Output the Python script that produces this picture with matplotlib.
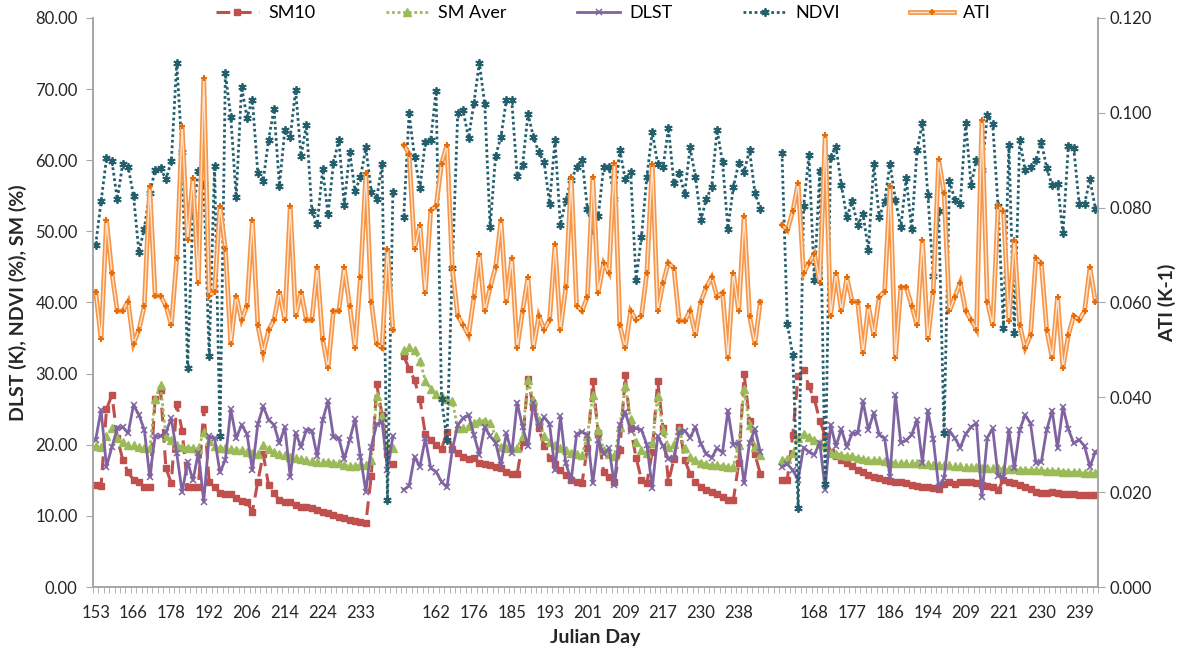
import numpy as np
import matplotlib
matplotlib.use("Agg")
import matplotlib.pyplot as plt
from matplotlib.lines import Line2D
from matplotlib.ticker import FormatStrFormatter

plt.rcParams['font.family'] = ['Lato', 'DejaVu Sans']

nan = np.nan

# x-axis tick labels (every 7th category; blanks mark gaps between years)
tick_labels = ['153', '166', '178', '192', '206', '214', '224', '233', '',
               '162', '176', '185', '193', '201', '209', '217', '230', '238', '',
               '168', '177', '186', '194', '209', '221', '230', '239']

sm10 = [14.3, 14.2, 25.0, 27.0, 21.0, 17.9, 16.1, 15.1, 14.7, 14.1, 14.1, 26.5, 27.7, 16.7, 14.6, 25.7,
        22.0, 14.1, 14.1, 14.1, 25.0, 14.8, 14.1, 13.2, 13.1, 13.1, 12.5, 12.1, 11.9, 10.6, 14.8, 18.7,
        14.3, 13.2, 12.2, 12.0, 11.9, 11.5, 11.3, 11.2, 11.1, 10.8, 10.6, 10.4, 10.1, 9.8, 9.7, 9.4,
        9.3, 9.2, 9.0, 15.6, 28.5, 24.2, 18.7, 17.3,
        nan,
        32.5, 30.7, 29.1, 26.4, 21.5, 20.7, 20.0, 19.4, 21.8, 19.4, 18.9, 18.3, 18.0, 18.2, 17.4, 17.3,
        17.1, 16.9, 16.8, 16.1, 15.9, 15.9, 20.4, 29.2, 25.3, 22.3, 19.8, 18.2, 17.3, 16.4, 15.7, 15.1,
        14.8, 14.6, 19.6, 28.9, 21.7, 16.1, 15.4, 14.8, 19.2, 29.8, 22.3, 18.2, 15.1, 14.6, 19.0, 29.0,
        22.3, 14.8, 18.0, 22.5, 17.9, 15.9, 14.8, 14.0, 13.7, 13.4, 13.1, 12.7, 12.3, 12.2, 17.4, 29.9,
        23.4, 18.7, 15.9,
        nan, nan, nan,
        15.1, 15.1, 21.4, 29.7, 30.5, 28.2, 26.4, 23.4, 21.2, 19.0, 18.4, 17.9, 17.5, 17.0, 16.5, 16.1,
        15.7, 15.5, 15.3, 15.0, 14.9, 14.8, 14.7, 14.6, 14.3, 14.2, 14.1, 14.0, 13.9, 13.8, 14.5, 14.8,
        14.5, 14.7, 14.8, 14.8, 14.6, 14.3, 14.2, 14.0, 13.6, 15.1, 14.8, 14.6, 14.3, 14.1, 13.8, 13.4,
        13.2, 13.2, 13.3, 13.2, 13.1, 13.1, 13.1, 12.9, 12.9, 12.9, 12.9]

sm_aver = [19.8, 19.7, 21.3, 22.3, 21.0, 20.4, 20.0, 19.9, 19.7, 19.6, 19.5, 26.4, 28.4, 21.2, 20.6, 19.9,
           19.7, 19.6, 19.5, 19.4, 21.8, 20.5, 19.8, 19.6, 19.5, 19.4, 19.3, 19.2, 19.0, 18.8, 18.7, 19.9,
           19.4, 19.0, 18.7, 18.5, 18.3, 18.2, 18.0, 17.8, 17.7, 17.6, 17.6, 17.6, 17.5, 17.4, 17.2, 17.0,
           17.0, 17.1, 17.2, 17.8, 26.8, 24.0, 20.0, 19.6,
           nan,
           33.3, 33.7, 33.3, 31.8, 29.0, 27.9, 27.2, 26.8, 26.5, 26.2, 22.3, 22.4, 22.6, 23.1, 23.4, 23.4,
           23.1, 21.2, 19.7, 19.6, 19.5, 19.5, 21.2, 29.1, 26.3, 23.5, 21.2, 20.4, 20.0, 19.6, 19.2, 18.9,
           18.7, 18.6, 21.3, 27.0, 22.1, 19.3, 18.7, 18.4, 22.5, 28.3, 23.6, 20.4, 19.2, 18.9, 20.3, 26.8,
           22.1, 19.7, 20.1, 22.1, 19.5, 18.3, 17.9, 17.5, 17.3, 17.1, 17.1, 17.0, 16.9, 16.9, 20.0, 27.8,
           22.8, 19.7, 18.6,
           nan, nan, nan,
           17.9, 18.0, 18.8, 20.9, 21.5, 21.1, 20.6, 20.3, 19.9, 18.9, 18.7, 18.6, 18.4, 18.4, 18.1, 18.0,
           17.9, 17.8, 17.8, 17.7, 17.6, 17.5, 17.5, 17.4, 17.4, 17.4, 17.3, 17.3, 17.2, 17.2, 17.2, 17.1,
           17.0, 17.0, 16.9, 16.9, 16.9, 16.8, 16.8, 16.7, 16.7, 16.6, 16.6, 16.6, 16.5, 16.5, 16.4, 16.4,
           16.4, 16.3, 16.3, 16.3, 16.2, 16.2, 16.1, 16.1, 16.0, 16.0, 16.0]

dlst = [20.7, 24.9, 16.9, 19.7, 22.3, 22.5, 21.6, 25.6, 24.2, 22.1, 15.5, 21.2, 21.2, 21.8, 23.7, 18.8,
        13.3, 17.6, 15.0, 18.9, 12.0, 21.2, 20.9, 16.1, 17.9, 25.0, 20.9, 22.8, 21.5, 16.4, 22.9, 25.4,
        23.5, 22.8, 20.2, 22.5, 15.5, 21.7, 19.7, 22.1, 22.0, 18.4, 23.5, 26.1, 21.1, 20.9, 18.0, 20.7,
        23.6, 18.3, 13.4, 19.7, 22.9, 23.2, 16.4, 21.2,
        nan,
        13.7, 14.2, 18.3, 16.9, 20.9, 16.7, 16.2, 14.8, 14.0, 19.3, 22.8, 23.7, 24.2, 21.4, 18.6, 22.5,
        21.2, 20.3, 17.2, 21.6, 18.8, 25.9, 22.5, 19.8, 25.9, 22.5, 23.9, 22.9, 16.4, 24.0, 17.4, 15.0,
        21.5, 21.8, 21.4, 14.6, 20.7, 18.7, 19.5, 14.3, 22.8, 24.6, 22.0, 22.3, 22.1, 20.0, 13.9, 21.2,
        19.8, 18.0, 18.2, 21.8, 22.0, 21.0, 22.5, 20.1, 18.7, 18.2, 19.5, 18.9, 24.8, 20.0, 20.3, 14.6,
        20.3, 22.2, 19.0,
        nan, nan, nan,
        16.9, 17.3, 16.4, 15.1, 19.6, 19.0, 18.6, 20.3, 13.7, 22.8, 19.8, 22.2, 19.7, 21.6, 21.6, 26.1,
        22.1, 24.5, 21.4, 20.9, 15.4, 27.0, 20.3, 20.6, 21.4, 23.5, 17.5, 24.8, 20.8, 14.1, 15.3, 22.0,
        20.9, 19.6, 21.5, 22.5, 23.0, 12.7, 21.0, 22.3, 15.6, 15.5, 22.1, 16.7, 22.1, 24.2, 23.0, 17.5,
        17.6, 22.1, 24.8, 19.5, 25.3, 22.2, 20.2, 20.7, 19.8, 16.9, 19.0]

ndvi = [48.1, 54.2, 60.3, 59.9, 54.5, 59.5, 59.1, 55.0, 47.1, 50.4, 55.4, 58.6, 58.9, 57.3, 59.9, 73.7,
        61.1, 30.8, 52.5, 58.5, 56.7, 32.5, 59.2, 21.2, 72.2, 66.1, 54.8, 70.3, 66.0, 68.5, 58.2, 57.1,
        62.9, 67.2, 56.4, 64.2, 63.2, 69.9, 60.6, 65.0, 52.9, 51.0, 58.7, 52.4, 59.6, 62.9, 53.7, 61.2,
        55.7, 57.6, 61.8, 55.6, 54.6, 59.5, 12.2, 55.6,
        nan,
        52.0, 66.6, 60.5, 56.1, 62.6, 62.8, 69.8, 26.4, 20.7, 44.8, 66.6, 67.0, 63.1, 68.1, 73.7, 67.9,
        50.6, 60.6, 63.3, 68.5, 68.4, 57.8, 59.3, 66.5, 63.3, 61.1, 59.7, 53.9, 62.8, 50.9, 54.4, 57.2,
        59.0, 60.1, 53.2, 50.2, 52.1, 59.0, 59.0, 54.5, 61.4, 57.3, 58.4, 43.2, 49.2, 57.7, 64.0, 59.5,
        59.0, 64.6, 56.8, 58.2, 55.3, 61.8, 57.6, 51.6, 54.5, 56.3, 64.3, 59.7, 50.4, 56.2, 59.6, 58.4,
        61.4, 55.4, 53.2,
        nan, nan, nan,
        61.0, 37.0, 32.6, 11.1, 53.5, 60.7, 43.1, 58.5, 14.5, 60.5, 61.9, 56.5, 52.0, 54.2, 50.9, 52.4,
        47.4, 59.5, 52.0, 54.2, 59.5, 54.4, 50.6, 57.5, 50.3, 61.4, 65.3, 55.1, 43.7, 52.9, 21.6, 57.1,
        54.4, 53.9, 65.2, 56.5, 60.1, 58.6, 66.4, 65.1, 53.5, 36.4, 62.1, 35.7, 62.8, 58.6, 59.0, 60.0,
        62.6, 58.9, 56.5, 56.7, 49.7, 62.0, 61.7, 53.9, 53.9, 57.3, 53.2]

# ATI in K-1 (secondary axis)
ati = [0.0623, 0.0522, 0.0774, 0.0662, 0.0582, 0.0582, 0.0602, 0.0513, 0.0542, 0.0593, 0.0845, 0.0614,
       0.0614, 0.0593, 0.0552, 0.0693, 0.0972, 0.0732, 0.0863, 0.0642, 0.1073, 0.0614, 0.0623, 0.0804,
       0.0713, 0.0513, 0.0614, 0.0563, 0.0593, 0.0774, 0.0552, 0.0494, 0.0542, 0.0563, 0.0623, 0.0563,
       0.0804, 0.0572, 0.0623, 0.0563, 0.0563, 0.0674, 0.0522, 0.0461, 0.0582, 0.0582, 0.0674, 0.0593,
       0.0504, 0.0653, 0.0873, 0.0602, 0.0513, 0.0504, 0.0713, 0.0542,
       nan,
       0.0932, 0.0914, 0.0713, 0.0764, 0.0621, 0.0794, 0.0803, 0.0893, 0.0932, 0.0672, 0.0572, 0.0552,
       0.0531, 0.0612, 0.0702, 0.0582, 0.0632, 0.0674, 0.0773, 0.0602, 0.0693, 0.0504, 0.0582, 0.0653,
       0.0504, 0.0572, 0.0543, 0.0563, 0.0723, 0.0542, 0.0632, 0.0864, 0.0593, 0.0582, 0.0612, 0.0864,
       0.0621, 0.0683, 0.0663, 0.0894, 0.0552, 0.0504, 0.0582, 0.0563, 0.0572, 0.0663, 0.0893, 0.0582,
       0.0642, 0.0684, 0.0672, 0.0561, 0.0561, 0.0582, 0.0531, 0.0602, 0.0632, 0.0653, 0.0612, 0.0621,
       0.0483, 0.0663, 0.0582, 0.0783, 0.0572, 0.0513, 0.0602,
       nan, nan, nan,
       0.0764, 0.0752, 0.0792, 0.0852, 0.0662, 0.0683, 0.0702, 0.0642, 0.0954, 0.0572, 0.0663, 0.0582,
       0.0653, 0.0602, 0.0602, 0.0494, 0.0593, 0.0531, 0.0612, 0.0623, 0.0845, 0.0483, 0.0632, 0.0632,
       0.0593, 0.0552, 0.0732, 0.0522, 0.0623, 0.0902, 0.0831, 0.0582, 0.0612, 0.0642, 0.0582, 0.0563,
       0.0543, 0.0984, 0.0602, 0.0552, 0.0803, 0.0792, 0.0561, 0.0732, 0.0552, 0.0504, 0.0531, 0.0693,
       0.0683, 0.0542, 0.0483, 0.0612, 0.0462, 0.0531, 0.0572, 0.0563, 0.0582, 0.0674, 0.0602]

n = len(sm10)
x = np.arange(n)

fig = plt.figure(figsize=(11.83, 6.51), dpi=100)
ax = fig.add_axes([0.0786, 0.0983, 0.8496, 0.8741])
ax2 = ax.twinx()

c_sm10 = '#C0504D'
c_smav = '#9BBB59'
c_dlst = '#8064A2'
c_ndvi = '#245F6E'
c_ati = '#F79646'
c_ati_in = '#FDE3CF'

l_sm10, = ax.plot(x, sm10, color=c_sm10, lw=2.2, ls=(0, (4.5, 2.5)), marker='s', ms=5,
                  mec=c_sm10, mfc=c_sm10, label='SM10', zorder=3)
l_smav, = ax.plot(x, sm_aver, color=c_smav, lw=2, ls=(0, (1, 1)), marker='^', ms=5.5,
                  mec=c_smav, mfc=c_smav, label='SM Aver', zorder=3)
l_dlst, = ax.plot(x, dlst, color=c_dlst, lw=2, ls='-', marker='x', ms=4, mew=1.1,
                  mec=c_dlst, label='DLST', zorder=4)
l_ndvi, = ax.plot(x, ndvi, color=c_ndvi, lw=2, ls=(0, (1, 1)), marker=(6, 2, 0), ms=6, mew=1.3,
                  mec=c_ndvi, label='NDVI', zorder=4)

ax2.plot(x, ati, color=c_ati, lw=3.4, solid_joinstyle='miter', zorder=2)
ax2.plot(x, ati, color=c_ati_in, lw=1.0, zorder=3)
ax2.plot(x, ati, ls='none', marker='+', ms=5, mew=1.5, color='#E46C0A', zorder=4)

ax.set_xlim(-0.5, n - 0.5)
ax.set_ylim(0, 80)
ax2.set_ylim(0, 0.12)
ax.set_yticks(np.arange(0, 81, 10))
ax2.set_yticks(np.arange(0, 0.1201, 0.02))
ax.yaxis.set_major_formatter(FormatStrFormatter('%.2f'))
ax2.yaxis.set_major_formatter(FormatStrFormatter('%.3f'))

tick_pos = np.arange(0, n, 7)[:len(tick_labels)]
ax.set_xticks(tick_pos)
ax.set_xticklabels(tick_labels)
ax.set_xticks(np.arange(-0.5, n, 1), minor=True)
ax.tick_params(axis='x', which='major', length=0, pad=13, labelsize=12, colors='#262626')
ax.tick_params(axis='x', which='minor', length=4, color='#A6A6A6', direction='out')
ax.tick_params(axis='y', length=5, color='#A6A6A6', pad=6, labelsize=12, labelcolor='#262626')
ax2.tick_params(axis='y', length=5, color='#A6A6A6', pad=3, labelsize=12, labelcolor='#262626')

for a in (ax, ax2):
    a.spines['top'].set_visible(False)
    for s in ('left', 'right', 'bottom'):
        a.spines[s].set_color('#A6A6A6')
        a.spines[s].set_linewidth(1.2)

ax.set_xlabel('Julian Day', fontsize=14, fontweight='bold', labelpad=6, color='#262626')
ax.set_ylabel('DLST (K), NDVI (%), SM (%)', fontsize=14, fontweight='bold', labelpad=6, color='#262626')
ax2.set_ylabel('ATI (K-1)', fontsize=14, fontweight='bold', labelpad=5, color='#262626')

h_ati = (Line2D([], [], color=c_ati, lw=3.4), Line2D([], [], color=c_ati_in, lw=1.0),
         Line2D([], [], ls='none', marker='+', ms=5, mew=1.5, color='#E46C0A'))
fig.legend([l_sm10, l_smav, l_dlst, l_ndvi, h_ati], ['SM10', 'SM Aver', 'DLST', 'NDVI', 'ATI'],
           loc='center', bbox_to_anchor=(603 / 1183, 1 - 13 / 651), ncol=5, frameon=False,
           fontsize=13, handlelength=2.4, handletextpad=0.5, columnspacing=3.9)

fig.savefig('out.png', dpi=100)
